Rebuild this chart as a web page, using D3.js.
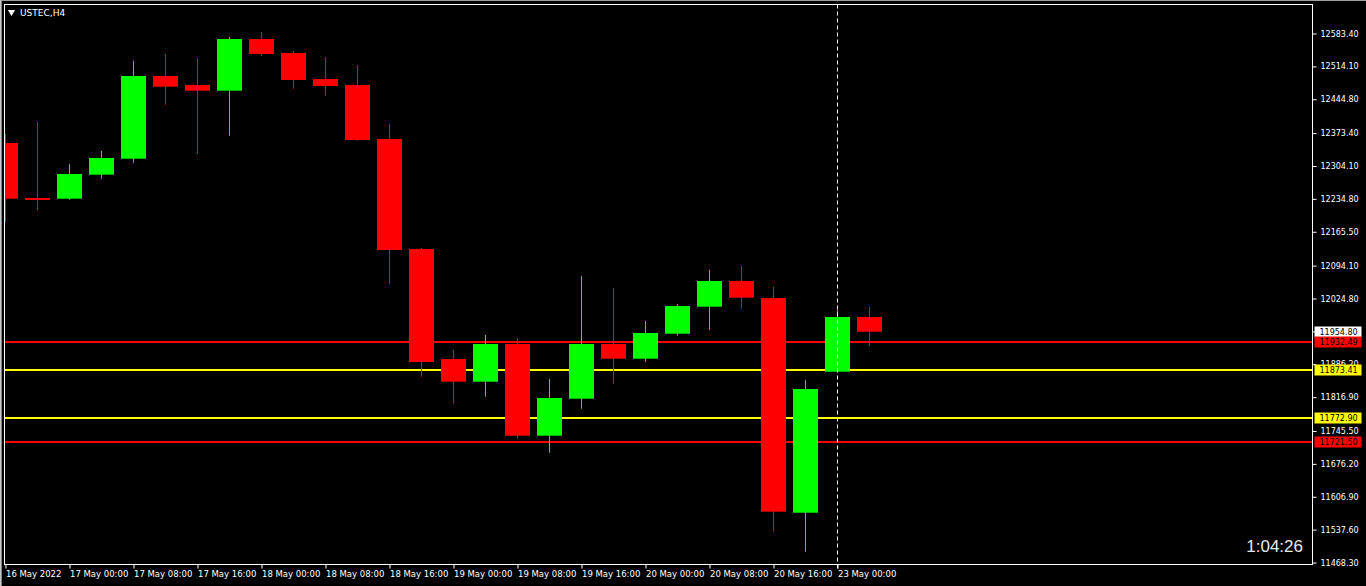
<!DOCTYPE html>
<html>
<head>
<meta charset="utf-8">
<script src="https://cdnjs.cloudflare.com/ajax/libs/d3/7.8.5/d3.min.js"></script>
<style>
  html, body { margin: 0; padding: 0; background: #000; overflow: hidden; }
  text { font-family: "DejaVu Sans", sans-serif; }
</style>
</head>
<body>
<div id="container"></div>
<script>
/* DATA */
const symbol = "USTEC,H4";
const times = [
  "16 May 16:00", "16 May 20:00", "17 May 00:00", "17 May 04:00", "17 May 08:00", "17 May 12:00",
  "17 May 16:00", "17 May 20:00", "18 May 00:00", "18 May 04:00", "18 May 08:00", "18 May 12:00",
  "18 May 16:00", "18 May 20:00", "19 May 00:00", "19 May 04:00", "19 May 08:00", "19 May 12:00",
  "19 May 16:00", "19 May 20:00", "20 May 00:00", "20 May 04:00", "20 May 08:00", "20 May 12:00",
  "20 May 16:00", "20 May 20:00", "23 May 00:00", "23 May 04:00"
];
const open  = [12352.6, 12236.6, 12235.2, 12285.8, 12319.5, 12493.8, 12474.8, 12462.8, 12571.8, 12542.3,
               12487.5, 12474.8, 12361.0, 12129.1, 11897.2, 11849.4, 11928.9, 11735.6, 11813.6, 11928.9,
               11897.9, 11950.6, 12007.5, 12061.7, 12025.8, 11573.2, 11870.5, 11985.8];
const high  = [12371.5, 12396.8, 12308.3, 12335.7, 12525.4, 12540.2, 12531.8, 12576.0, 12586.6, 12546.5,
               12533.9, 12517.0, 12392.6, 12131.2, 11916.2, 11947.8, 11941.5, 11855.1, 12072.2, 12046.9,
               11977.3, 12013.2, 12084.9, 12093.3, 12049.0, 11853.0, 12000.5, 12006.9];
const low   = [12186.7, 12209.9, 12233.1, 12277.3, 12311.0, 12433.3, 12330.0, 12368.0, 12536.6, 12467.0,
               12452.3, 12357.4, 12055.3, 11859.9, 11803.0, 11817.8, 11731.3, 11699.7, 11792.5, 11845.2,
               11891.5, 11946.4, 11959.0, 12003.3, 11533.2, 11491.0, 11870.5, 11925.3];
const close = [12235.2, 12233.5, 12287.2, 12321.0, 12493.8, 12471.3, 12462.8, 12571.8, 12540.2, 12485.4,
               12472.7, 12358.9, 12127.0, 11890.9, 11849.4, 11928.9, 11735.6, 11815.0, 11928.9, 11897.9,
               11952.1, 12009.0, 12061.7, 12026.5, 11575.4, 11834.0, 11985.8, 11954.8];

const timeTicks = ["16 May 16:00", "17 May 00:00", "17 May 08:00", "17 May 16:00", "18 May 00:00", "18 May 08:00",
                   "18 May 16:00", "19 May 00:00", "19 May 08:00", "19 May 16:00", "20 May 00:00", "20 May 08:00",
                   "20 May 16:00", "23 May 00:00"];
const timeTickLabels = ["16 May 2022", "17 May 00:00", "17 May 08:00", "17 May 16:00", "18 May 00:00", "18 May 08:00",
                        "18 May 16:00", "19 May 00:00", "19 May 08:00", "19 May 16:00", "20 May 00:00", "20 May 08:00",
                        "20 May 16:00", "23 May 00:00"];
const priceTicks = [12583.40, 12514.10, 12444.80, 12373.40, 12304.10, 12234.80, 12165.50, 12094.10, 12024.80,
                    11955.50, 11886.20, 11816.90, 11745.50, 11676.20, 11606.90, 11537.60, 11468.30];
const levels = [11932.49, 11873.41, 11772.90, 11721.50];
const levelKinds = ["red", "yellow", "yellow", "red"];
const cursorTime = "23 May 00:00";
const clockText = "1:04:26";

/* CONSTANTS AND GLOBALS */
const width = 1366, height = 586;
const frame = { left: 4.5, top: 4.5, right: 1312.5, bottom: 564.5 };
const colors = { up: "#00ff00", down: "#ff0000", red: "#ff0000", yellow: "#ffff00", fg: "#ffffff" };

const candles = times.map((t, i) => ({ t, o: open[i], h: high[i], l: low[i], c: close[i] }));

/* SCALES */
const xScale = d3.scalePoint()
  .domain(times)
  .range([5.5, 5.5 + 32 * (times.length - 1)]);

const yScale = d3.scaleLinear()
  .domain([11468.3, 12583.4])
  .range([562.5, 33.5]);

const bodyW = xScale.step() * 0.78;

/* SVG */
const svg = d3.select("#container")
  .append("svg")
  .attr("width", width)
  .attr("height", height)
  .style("display", "block");

svg.append("rect").attr("width", width).attr("height", height).attr("fill", "#000");

// window border
svg.append("line").attr("x1", 0).attr("x2", width).attr("y1", 0.5).attr("y2", 0.5)
  .attr("stroke", "#a0a0a0");
svg.append("line").attr("x1", 0.5).attr("x2", 0.5).attr("y1", 0).attr("y2", height)
  .attr("stroke", "#c8c8c8");
svg.append("line").attr("x1", 1.5).attr("x2", 1.5).attr("y1", 1).attr("y2", height)
  .attr("stroke", "#808080");

svg.append("defs").append("clipPath").attr("id", "plot")
  .append("rect")
  .attr("x", frame.left + 0.5).attr("y", frame.top + 0.5)
  .attr("width", frame.right - frame.left - 1)
  .attr("height", frame.bottom - frame.top - 1);

const plot = svg.append("g").attr("clip-path", "url(#plot)");

// horizontal levels
plot.selectAll("line.level")
  .data(levels)
  .join("line")
  .attr("class", "level")
  .attr("x1", frame.left).attr("x2", frame.right)
  .attr("y1", d => Math.round(yScale(d)))
  .attr("y2", d => Math.round(yScale(d)))
  .attr("stroke", (d, i) => colors[levelKinds[i]])
  .attr("stroke-width", 2);

// cursor line
svg.append("line")
  .attr("x1", Math.floor(xScale(cursorTime)) + 0.5)
  .attr("x2", Math.floor(xScale(cursorTime)) + 0.5)
  .attr("y1", frame.top)
  .attr("y2", frame.bottom + 4)
  .attr("stroke", colors.fg)
  .attr("stroke-dasharray", "4,3");

// candles
const cg = plot.selectAll("g.candle")
  .data(candles)
  .join("g")
  .attr("class", "candle");

cg.append("line")
  .attr("x1", d => Math.floor(xScale(d.t)) + 0.5)
  .attr("x2", d => Math.floor(xScale(d.t)) + 0.5)
  .attr("y1", d => yScale(d.h))
  .attr("y2", d => yScale(d.l))
  .attr("stroke", d => d.c >= d.o ? colors.up : colors.down);

cg.append("rect")
  .attr("x", d => Math.round(xScale(d.t) - bodyW / 2))
  .attr("y", d => yScale(Math.max(d.o, d.c)))
  .attr("width", Math.round(bodyW))
  .attr("height", d => Math.max(2, yScale(Math.min(d.o, d.c)) - yScale(Math.max(d.o, d.c))))
  .attr("fill", d => d.c >= d.o ? colors.up : colors.down);

// frame
svg.append("rect")
  .attr("x", frame.left).attr("y", frame.top)
  .attr("width", frame.right - frame.left)
  .attr("height", frame.bottom - frame.top)
  .attr("fill", "none")
  .attr("stroke", colors.fg);

// price axis
const yAxis = svg.append("g")
  .attr("transform", `translate(${frame.right},0)`)
  .call(d3.axisRight(yScale).tickValues(priceTicks).tickFormat(d3.format(".2f")).tickSize(4).tickPadding(4));
yAxis.select(".domain").remove();
yAxis.selectAll(".tick line").attr("stroke", colors.fg);
yAxis.selectAll(".tick text")
  .attr("fill", colors.fg)
  .style("font-family", "DejaVu Sans")
  .style("font-size", "8px");

// time axis
const xAxis = svg.append("g")
  .attr("transform", `translate(0,${frame.bottom})`)
  .call(d3.axisBottom(xScale).tickValues(timeTicks).tickSize(4)
    .tickFormat((d, i) => timeTickLabels[i]));
xAxis.select(".domain").remove();
xAxis.selectAll(".tick line").attr("stroke", colors.fg);
xAxis.selectAll(".tick text")
  .attr("fill", colors.fg)
  .attr("text-anchor", "start")
  .attr("x", 0)
  .attr("y", 6)
  .style("font-family", "DejaVu Sans")
  .style("font-size", "8.5px");

// price labels for levels and bid
const boxes = levels.map((v, i) => ({ v, fill: colors[levelKinds[i]] }));
boxes.unshift({ v: close[close.length - 1], fill: colors.fg });
const bg = svg.selectAll("g.pbox")
  .data(boxes)
  .join("g")
  .attr("class", "pbox")
  .attr("transform", d => `translate(${frame.right + 2},${Math.round(yScale(d.v))})`);
bg.append("rect")
  .attr("x", 0).attr("y", -5.5)
  .attr("width", 47).attr("height", 11)
  .attr("fill", d => d.fill);
bg.append("text")
  .attr("x", 5).attr("dy", "0.35em")
  .attr("fill", "#000")
  .style("font-size", "8px")
  .text(d => d.v.toFixed(2));

// title
svg.append("path")
  .attr("d", d3.symbol(d3.symbolTriangle, 22)())
  .attr("transform", "translate(11.5,12) rotate(180)")
  .attr("fill", colors.fg);
svg.append("text")
  .attr("x", 20).attr("y", 16)
  .attr("fill", colors.fg)
  .style("font-size", "9px")
  .text(symbol);

// clock
svg.append("text")
  .attr("x", 1303).attr("y", 552)
  .attr("text-anchor", "end")
  .attr("fill", "#e8e8e8")
  .style("font-family", "Liberation Sans")
  .style("font-size", "17px")
  .text(clockText);
</script>
</body>
</html>
